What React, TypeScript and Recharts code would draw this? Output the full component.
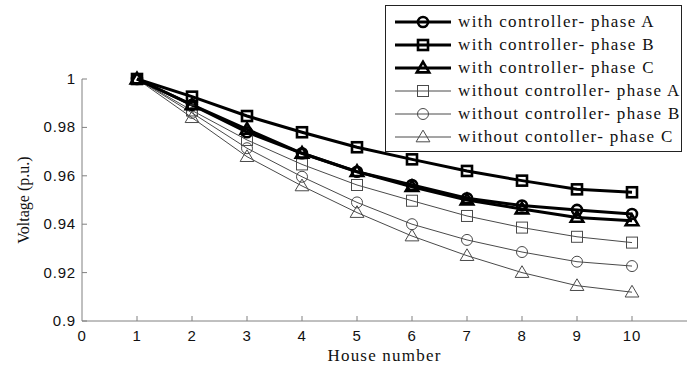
import { LineChart, Line, XAxis, YAxis, Legend } from "recharts";

// house index along the feeder
const houses = [1, 2, 3, 4, 5, 6, 7, 8, 9, 10];

// voltage (p.u.)
const withA = [1, 0.9893, 0.978, 0.9693, 0.9617, 0.9562, 0.9507, 0.9477, 0.9459, 0.9442];
const withB = [1, 0.9927, 0.9847, 0.978, 0.9718, 0.9668, 0.962, 0.958, 0.9544, 0.9532];
const withC = [1, 0.9893, 0.9792, 0.9693, 0.9617, 0.9555, 0.95, 0.9463, 0.9428, 0.9414];
const withoutA = [1, 0.987, 0.9748, 0.9647, 0.9562, 0.9497, 0.9434, 0.9386, 0.9348, 0.9324];
const withoutB = [1, 0.986, 0.9714, 0.9596, 0.949, 0.94, 0.9335, 0.9285, 0.9245, 0.9227];
const withoutC = [1, 0.984, 0.9679, 0.9558, 0.9448, 0.9351, 0.927, 0.92, 0.9146, 0.9119];

const xTicks = [0, 1, 2, 3, 4, 5, 6, 7, 8, 9, 10];
const yTicks = [0.9, 0.92, 0.94, 0.96, 0.98, 1];

const SERIES = [
  { key: "withA", name: "with controller- phase A", shape: "circle", thick: true },
  { key: "withB", name: "with controller- phase B", shape: "square", thick: true },
  { key: "withC", name: "with controller- phase C", shape: "triangle", thick: true },
  { key: "withoutA", name: "without controller- phase A", shape: "square", thick: false },
  { key: "withoutB", name: "without controller- phase B", shape: "circle", thick: false },
  { key: "withoutC", name: "without contoller- phase C", shape: "triangle", thick: false },
];

const data = houses.map((h, i) => ({
  house: h,
  withA: withA[i],
  withB: withB[i],
  withC: withC[i],
  withoutA: withoutA[i],
  withoutB: withoutB[i],
  withoutC: withoutC[i],
}));

const AXIS = "#808080";
const SANS = "'Liberation Sans', Arial, sans-serif";
const SERIF = "'Liberation Serif', 'Times New Roman', serif";

const Marker = ({ cx, cy, shape, thick }: any) => {
  const color = thick ? "#000" : "#4a4a4a";
  const sw = thick ? 2.6 : 1;
  const s = thick ? 5 : 5.5;
  if (shape === "circle")
    return <circle cx={cx} cy={cy} r={s} fill="none" stroke={color} strokeWidth={sw} />;
  if (shape === "square")
    return <rect x={cx - s} y={cy - s} width={s * 2} height={s * 2} fill="none" stroke={color} strokeWidth={sw} />;
  const t = s * 1.25;
  return (
    <polygon
      points={`${cx},${cy - t} ${cx - t},${cy + t * 0.7} ${cx + t},${cy + t * 0.7}`}
      fill="none"
      stroke={color}
      strokeWidth={sw}
    />
  );
};

const BottomTick = ({ x, y, payload }: any) => (
  <g>
    {payload.value > 0 && <line x1={x} y1={y} x2={x} y2={y - 5} stroke={AXIS} />}
    <text x={x} y={y + 20} textAnchor="middle" fontSize={15} fontFamily={SANS} letterSpacing={0.8} fill="#111">
      {payload.value}
    </text>
  </g>
);

const LeftTick = ({ x, y, payload }: any) => (
  <g>
    <line x1={x} y1={y} x2={x + 5} y2={y} stroke={AXIS} />
    <text x={x - 6} y={y + 5} textAnchor="end" fontSize={15} fontFamily={SANS} letterSpacing={0.8} fill="#111">
      {String(+Number(payload.value).toFixed(2))}
    </text>
  </g>
);

const TopTick = ({ x, y, payload }: any) =>
  payload.value > 0 ? <line x1={x} y1={y} x2={x} y2={y + 5} stroke={AXIS} /> : <g />;

const RightTick = ({ x, y }: any) => <line x1={x} y1={y} x2={x - 5} y2={y} stroke={AXIS} />;

const LegendBox = () => (
  <div
    style={{
      border: "1px solid #222",
      background: "#fff",
      padding: "4px 0 3px 0",
      fontFamily: SERIF,
      fontSize: 17,
      letterSpacing: 1.35,
      color: "#111",
    }}
  >
    {SERIES.map((s) => (
      <div key={s.key} style={{ display: "flex", alignItems: "center", height: 23 }}>
        <svg width={72} height={20} style={{ flex: "none" }}>
          <line x1={9} y1={10} x2={65} y2={10} stroke={s.thick ? "#000" : "#4a4a4a"} strokeWidth={s.thick ? 3 : 1} />
          <Marker cx={37} cy={10} shape={s.shape} thick={s.thick} />
        </svg>
        <span style={{ whiteSpace: "nowrap" }}>{s.name}</span>
      </div>
    ))}
  </div>
);

export default function App() {
  const ordered = [...SERIES.filter((s) => !s.thick), ...SERIES.filter((s) => s.thick)];
  return (
    <div style={{ position: "absolute", left: 0, top: 0, background: "#fff" }}>
      <LineChart width={694} height={370} data={data} margin={{ top: 79, right: 7, bottom: 0, left: 0 }}>
        <XAxis
          dataKey="house"
          type="number"
          domain={[0, 11]}
          ticks={xTicks}
          interval={0}
          height={49}
          tickSize={0}
          tickMargin={0}
          tickLine={false}
          axisLine={{ stroke: AXIS }}
          tick={<BottomTick />}
          label={{
            value: "House number",
            position: "insideBottom",
            offset: 9,
            style: { fontFamily: SERIF, fontSize: 17, letterSpacing: 1.2, fill: "#111" },
          }}
        />
        <XAxis
          xAxisId="top"
          orientation="top"
          type="number"
          domain={[0, 11]}
          ticks={xTicks}
          interval={0}
          height={0}
          tickSize={0}
          tickMargin={0}
          tickLine={false}
          axisLine={{ stroke: AXIS }}
          tick={<TopTick />}
        />
        <YAxis
          type="number"
          domain={[0.9, 1]}
          ticks={yTicks}
          interval={0}
          width={82}
          tickSize={0}
          tickMargin={0}
          tickLine={false}
          axisLine={{ stroke: AXIS }}
          tick={<LeftTick />}
          label={{
            value: "Voltage (p.u.)",
            angle: -90,
            position: "insideLeft",
            offset: 23,
            style: { textAnchor: "middle", fontFamily: SERIF, fontSize: 16, fill: "#111" },
          }}
        />
        <YAxis
          yAxisId="right"
          orientation="right"
          type="number"
          domain={[0.9, 1]}
          ticks={yTicks}
          interval={0}
          width={0}
          tickSize={0}
          tickMargin={0}
          tickLine={false}
          axisLine={{ stroke: AXIS }}
          tick={<RightTick />}
        />
        {ordered.map((s) => (
          <Line
            key={s.key}
            dataKey={s.key}
            name={s.name}
            type="linear"
            stroke={s.thick ? "#000" : "#4a4a4a"}
            strokeWidth={s.thick ? 3 : 1}
            isAnimationActive={false}
            dot={(p: any) => <Marker key={`${s.key}-${p.index}`} cx={p.cx} cy={p.cy} shape={s.shape} thick={s.thick} />}
          />
        ))}
        <Legend
          layout="vertical"
          align="center"
          verticalAlign="middle"
          content={<LegendBox />}
          wrapperStyle={{ left: 385, top: 5, width: 297 }}
        />
      </LineChart>
    </div>
  );
}
